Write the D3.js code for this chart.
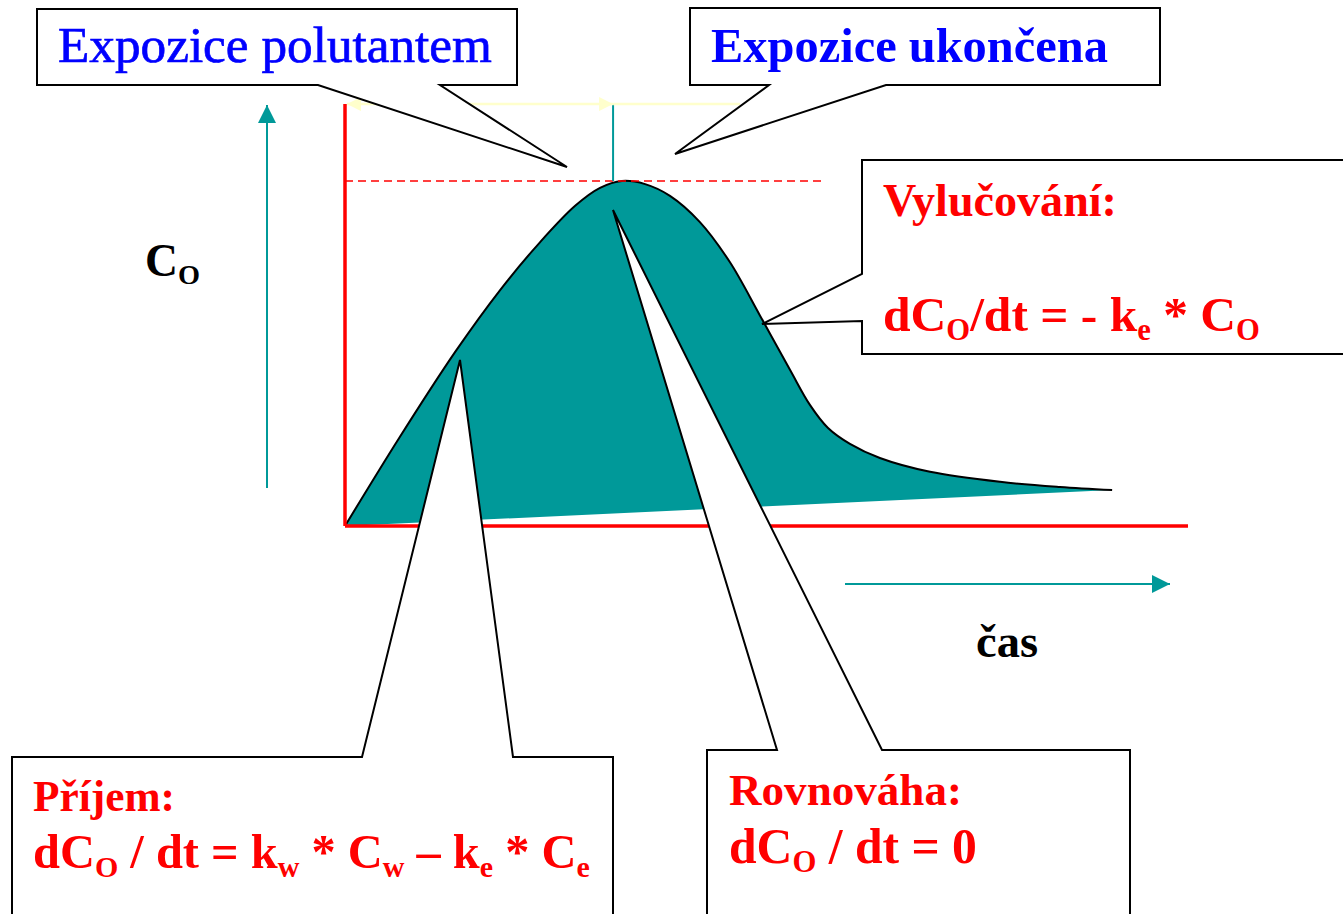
<!DOCTYPE html>
<html>
<head>
<meta charset="utf-8">
<script src="https://cdn.jsdelivr.net/npm/d3@7"></script>
<style>
  body { margin: 0; background: #fff; }
  text { font-family: "Liberation Serif", "Times New Roman", serif; }
</style>
</head>
<body>
<div id="chart"></div>
<script>
// concentration curve (time, C_O)
var timeVals = [0, 1.3, 2.61, 3.68, 4.63, 5.46, 6.05, 6.57, 7.12, 7.71, 8.42, 9.13, 9.85, 10.56, 11.03, 11.46, 11.98, 12.69, 13.88, 15.54, 16.96, 18.2];
var concVals = [0, 2.58, 5.04, 6.84, 8.23, 9.28, 9.8, 10, 9.91, 9.57, 8.81, 7.65, 6.09, 4.52, 3.51, 2.84, 2.38, 1.97, 1.57, 1.28, 1.13, 1.04];
var exposureEnd = 6.36;   // time the exposure stops
var dashEnd = 11.4;       // length of the peak guide line
var yellowEnd = 9.37;
var tMax = 20, cMax = 12.23;

var W = 1343, H = 914;
var teal = "#009999", red = "#ff0000", blue = "#0000ff";

var svg = d3.select("#chart").append("svg").attr("width", W).attr("height", H);

var x = d3.scaleLinear().domain([0, tMax]).range([345, 1188]);
var y = d3.scaleLinear().domain([0, 10]).range([526, 181]);

var defs = svg.append("defs");
function marker(id, color, size) {
  defs.append("marker").attr("id", id)
    .attr("viewBox", "0 0 10 10").attr("refX", 10).attr("refY", 5)
    .attr("markerUnits", "userSpaceOnUse")
    .attr("markerWidth", size).attr("markerHeight", size)
    .attr("orient", "auto-start-reverse")
    .append("path").attr("d", "M0,0L10,5L0,10Z").attr("fill", color);
}
marker("tealHead", teal, 18);
marker("yellowHead", "#ffffcc", 14);

var pts = timeVals.map(function(t, i) { return [t, concVals[i]]; });
var line = d3.line().x(function(d) { return x(d[0]); }).y(function(d) { return y(d[1]); })
    .curve(d3.curveCatmullRom.alpha(0.5));

// filled shape, bottom edge closes straight back to the origin
svg.append("path").attr("d", line(pts) + "Z").attr("fill", teal);
svg.append("path").attr("d", line(pts)).attr("fill", "none")
  .attr("stroke", "#000").attr("stroke-width", 2);

// red axes
svg.append("line").attr("x1", x(0)).attr("x2", x(0)).attr("y1", y(0)).attr("y2", y(cMax))
  .attr("stroke", red).attr("stroke-width", 3.5);
svg.append("line").attr("x1", x(0)).attr("x2", x(tMax)).attr("y1", y(0)).attr("y2", y(0))
  .attr("stroke", red).attr("stroke-width", 3.5);

// peak guide line
var peak = d3.max(concVals);
svg.append("line").attr("x1", x(0)).attr("x2", x(dashEnd)).attr("y1", y(peak)).attr("y2", y(peak))
  .attr("stroke", red).attr("stroke-width", 1.5).attr("stroke-dasharray", "8,5");

// exposure period
svg.append("line").attr("x1", x(exposureEnd)).attr("x2", x(exposureEnd))
  .attr("y1", y(peak)).attr("y2", y(cMax))
  .attr("stroke", teal).attr("stroke-width", 2);
svg.append("line").attr("x1", x(0) + 2).attr("x2", x(exposureEnd)).attr("y1", y(cMax)).attr("y2", y(cMax))
  .attr("stroke", "#ffffcc").attr("stroke-width", 2.5)
  .attr("marker-start", "url(#yellowHead)").attr("marker-end", "url(#yellowHead)");
svg.append("line").attr("x1", x(exposureEnd)).attr("x2", x(yellowEnd)).attr("y1", y(cMax)).attr("y2", y(cMax))
  .attr("stroke", "#ffffcc").attr("stroke-width", 2.5);

// teal direction arrows
svg.append("line").attr("x1", 267).attr("x2", 267).attr("y1", 488).attr("y2", 105)
  .attr("stroke", teal).attr("stroke-width", 2).attr("marker-end", "url(#tealHead)");
svg.append("line").attr("x1", 845).attr("x2", 1170).attr("y1", 584).attr("y2", 584)
  .attr("stroke", teal).attr("stroke-width", 2).attr("marker-end", "url(#tealHead)");

// callouts
var callouts = [
  [[37,9],[517,9],[517,85],[440,85],[567,167],[318,85],[37,85]],
  [[690,8],[1160,8],[1160,85],[886,85],[675,154],[769,85],[690,85]],
  [[862,160],[1350,160],[1350,354],[862,354],[862,321],[762,324],[862,274]],
  [[12,757],[362,757],[460,360],[513,757],[613,757],[613,925],[12,925]],
  [[707,750],[777,750],[613,210],[882,750],[1130,750],[1130,925],[707,925]]
];
svg.selectAll(".callout").data(callouts).enter().append("path")
  .attr("class", "callout")
  .attr("d", function(d) { return "M" + d.join("L") + "Z"; })
  .attr("fill", "#fff").attr("stroke", "#000").attr("stroke-width", 2);

// labels: segments [text, subscript?], left x, right x, baseline
var labels = [
  {segs: [["Expozice polutantem"]], x0: 58, x1: 492, y: 62, color: blue, weight: "normal"},
  {segs: [["Expozice ukončena"]], x0: 711, x1: 1108, y: 62, color: blue, weight: "bold"},
  {segs: [["C"], ["O", 1]], x0: 145, x1: 200, y: 276, color: "#000", weight: "bold"},
  {segs: [["čas"]], x0: 976, x1: 1038, y: 657, color: "#000", weight: "bold"},
  {segs: [["Vylučování:"]], x0: 883, x1: 1117, y: 216, color: red, weight: "bold"},
  {segs: [["dC"], ["O", 1], ["/dt = - k"], ["e", 1], [" * C"], ["O", 1]], x0: 883, x1: 1260, y: 331, color: red, weight: "bold"},
  {segs: [["Příjem:"]], x0: 33, x1: 175, y: 811, color: red, weight: "bold"},
  {segs: [["dC"], ["O", 1], [" / dt = k"], ["w", 1], [" * C"], ["w", 1], [" – k"], ["e", 1], [" * C"], ["e", 1]], x0: 33, x1: 590, y: 868, color: red, weight: "bold"},
  {segs: [["Rovnováha:"]], x0: 729, x1: 962, y: 805, color: red, weight: "bold"},
  {segs: [["dC"], ["O", 1], [" / dt = 0"]], x0: 729, x1: 977, y: 863, color: red, weight: "bold"}
];

labels.forEach(function(l) {
  var t = svg.append("text").attr("x", l.x0).attr("y", l.y)
    .attr("fill", l.color).attr("font-weight", l.weight).attr("font-size", 40)
    .style("white-space", "pre");
  if (l.weight === "normal") t.attr("stroke", l.color).attr("stroke-width", 0.7);
  var down = false;
  l.segs.forEach(function(s) {
    var sp = t.append("tspan").text(s[0]);
    if (s[1]) { sp.attr("font-size", "0.62em").attr("dy", "0.3em"); down = true; }
    else if (down) { sp.attr("dy", "-0.186em"); down = false; }
  });
  var w = t.node().getComputedTextLength();
  t.attr("font-size", 40 * (l.x1 - l.x0) / w);
});
</script>
</body>
</html>
